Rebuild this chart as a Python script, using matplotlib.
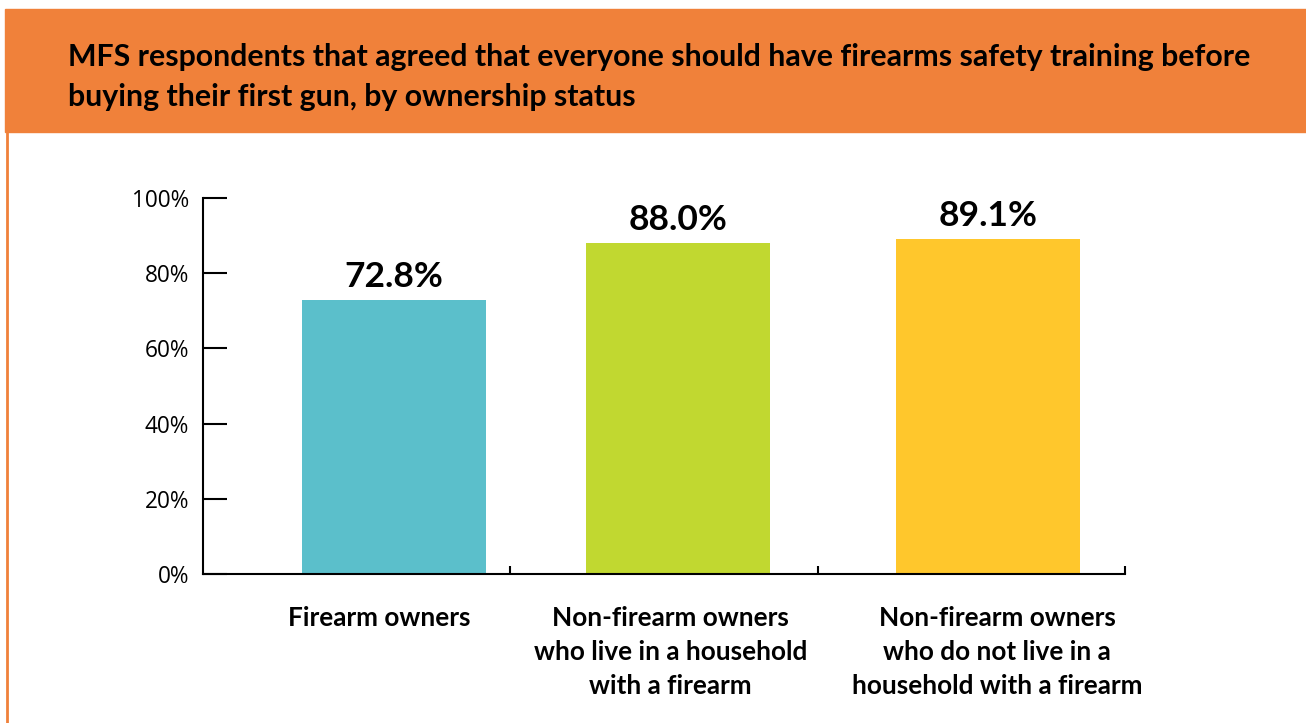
import matplotlib
matplotlib.use("Agg")
import matplotlib.pyplot as plt
from matplotlib.patches import Rectangle
from matplotlib.lines import Line2D

categories = ["Firearm owners",
              "Non-firearm owners\nwho live in a household\nwith a firearm",
              "Non-firearm owners\nwho do not live in a\nhousehold with a firearm"]
values = [72.8, 88.0, 89.1]
value_labels = ["72.8%", "88.0%", "89.1%"]
colors = ["#5BBFCB", "#C1D830", "#FFC72C"]
yticks = [0, 20, 40, 60, 80, 100]
ytick_labels = ["0%", "20%", "40%", "60%", "80%", "100%"]
title = ("MFS respondents that agreed that everyone should have firearms safety training before\n"
         "buying their first gun, by ownership status")

# layout (positions only)
bar_pos = [0.0, 0.956, 2.0]
label_pos = [-0.05, 0.93, 2.03]

W, H = 1306, 723
fig = plt.figure(figsize=(W / 100, H / 100), dpi=100)
orange = "#F0813A"

# banner and left border
fig.patches.append(Rectangle((5 / W, 1 - 132 / H), 1, (132 - 9) / H,
                             transform=fig.transFigure, color=orange, zorder=0))
fig.lines.append(Line2D([6.5 / W, 6.5 / W], [0, 1 - 132 / H], transform=fig.transFigure,
                        color=orange, lw=2))
fig.text(68 / W, 1 - 77 / H, title, transform=fig.transFigure, fontsize=21.8,
         fontweight="bold", family="Lato", va="center", ha="left", linespacing=1.5,
         color="black")

ax = fig.add_axes([203 / W, (H - 574) / H, (1125 - 203) / W, (574 - 198) / H])
ax.bar(bar_pos, values, width=0.62, color=colors, zorder=2)
ax.set_xlim(-0.643, 2.461)
ax.set_ylim(0, 100)
for s in ["top", "right"]:
    ax.spines[s].set_visible(False)
for s in ["left", "bottom"]:
    ax.spines[s].set_linewidth(1.5)
ax.set_yticks(yticks)
ax.set_yticklabels(ytick_labels, family="Open Sans", fontsize=16.3)
ax.tick_params(axis="y", direction="in", length=17, width=1.5, pad=10)
ax.set_xticks([0.39, 1.427, 2.461])
ax.set_xticklabels([])
ax.tick_params(axis="x", direction="in", length=6, width=1.5)
for xi, cat in zip(label_pos, categories):
    ax.text(xi, -8.6, cat, ha="center", va="top", fontsize=18.8, fontweight="bold",
            family="Lato", linespacing=1.5, transform=ax.transData)
for xi, v, lab in zip(bar_pos, values, value_labels):
    ax.text(xi, v + 3.5, lab, ha="center", va="baseline", fontsize=25.5, fontweight="bold",
            family="Lato")

fig.savefig("out.png", dpi=100)
